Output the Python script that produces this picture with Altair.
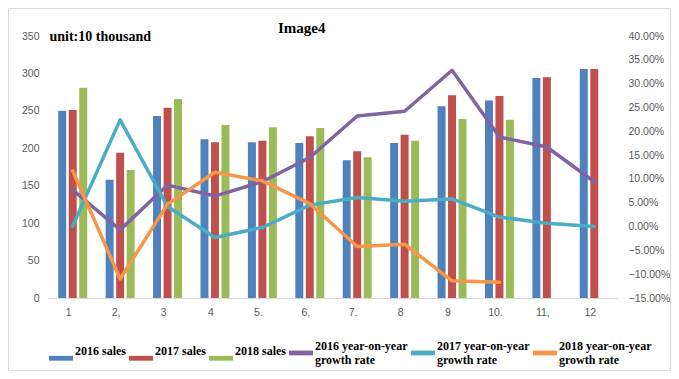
import altair as alt
import pandas as pd

months = ["1", "2,", "3", "4", "5.", "6,", "7.", "8", "9", "10.", "11,", "12"]

bar_series = ["2016 sales", "2017 sales", "2018 sales"]
sales_2016 = [250, 158, 243, 212, 208, 207, 184, 207, 256, 264, 294, 306]
sales_2017 = [251, 194, 254, 208, 210, 216, 196, 218, 271, 270, 295, 306]
sales_2018 = [281, 171, 266, 231, 228, 227, 188, 210, 239, 238, None, None]

line_series = ["2016 year-on-year|growth rate",
               "2017 year-on-year|growth rate",
               "2018 year-on-year|growth rate"]
growth_2016 = [7.7, -0.7, 8.7, 6.4, 9.4, 14.5, 23.2, 24.2, 32.8, 18.8, 16.7, 9.4]
growth_2017 = [0.1, 22.4, 4.2, -2.3, -0.2, 4.5, 6.1, 5.3, 5.8, 2.0, 0.7, 0.0]
growth_2018 = [11.7, -11.0, 4.7, 11.4, 9.6, 4.8, -4.2, -3.7, -11.4, -11.7, None, None]

left_ticks = [0, 50, 100, 150, 200, 250, 300, 350]
right_ticks = [-0.15, -0.10, -0.05, 0.0, 0.05, 0.10, 0.15, 0.20, 0.25, 0.30, 0.35, 0.40]

chart_title = "Image4"
unit_label = "unit:10 thousand"

colors = ["#4F81BD", "#C0504D", "#9BBB59", "#8064A2", "#4BACC6", "#F79646"]

bar_rows = []
for s, vals in zip(bar_series, [sales_2016, sales_2017, sales_2018]):
    for m, v in zip(months, vals):
        bar_rows.append({"month": m, "series": s, "value": v})
bar_df = pd.DataFrame(bar_rows)

line_rows = []
for s, vals in zip(line_series, [growth_2016, growth_2017, growth_2018]):
    for m, v in zip(months, vals):
        line_rows.append({"month": m, "series": s, "rate": None if v is None else v / 100})
line_df = pd.DataFrame(line_rows)

all_series = bar_series + line_series

legend = alt.Legend(
    title=None, orient="none", legendX=0, legendY=298, direction="horizontal",
    columns=6, symbolType="M-1,0.38H1V0.78H-1Z", symbolSize=576, symbolStrokeWidth=0,
    labelFont="Liberation Serif", labelFontSize=12, labelFontWeight="bold",
    labelColor="black", labelOffset=2, columnPadding=3,
    labelExpr="split(datum.label, '|')", labelLimit=200,
)
color_scale = alt.Scale(domain=all_series, range=colors)

x_enc = alt.X("month:N", sort=months, title=None,
              scale=alt.Scale(paddingInner=0.389, paddingOuter=0.195),
              axis=alt.Axis(labelAngle=0, ticks=False, domainColor="#d9d9d9",
                            labelFont="Liberation Sans", labelFontSize=10.5,
                            labelColor="#595959", labelPadding=9, labelOffset=-4))

border = alt.Chart(alt.Data(values=[{"a": 1}])).mark_rect(
    fill="transparent", stroke="#d9d9d9", strokeWidth=1
).encode(x=alt.value(-40.5), x2=alt.value(621.5), y=alt.value(-27.5), y2=alt.value(334.5))

title_text = alt.Chart(alt.Data(values=[{"t": chart_title}])).mark_text(
    font="Liberation Serif", fontSize=15, fontWeight="bold", color="black",
    align="left", baseline="alphabetic"
).encode(text="t:N", x=alt.value(229), y=alt.value(-3))

bars = alt.Chart(bar_df).mark_bar().encode(
    x=x_enc,
    xOffset=alt.XOffset("series:N", sort=bar_series,
                        scale=alt.Scale(domain=bar_series, paddingInner=0.238, paddingOuter=0)),
    y=alt.Y("value:Q", scale=alt.Scale(domain=[0, 350], nice=False),
            axis=alt.Axis(orient="left", values=left_ticks, grid=False, ticks=False, domain=False,
                          labelFont="Liberation Sans", labelFontSize=10.5, labelColor="#595959",
                          labelPadding=10, title=unit_label, titleAngle=0, titleX=0,
                          titleY=4.5, titleAlign="left", titleBaseline="alphabetic",
                          titleFont="Liberation Serif", titleFontSize=14, titleFontWeight="bold",
                          titleColor="black")),
    color=alt.Color("series:N", scale=color_scale, legend=legend),
)

lines = alt.Chart(line_df).mark_line(strokeWidth=3.5, strokeJoin="round", strokeCap="round").encode(
    x=x_enc,
    y=alt.Y("rate:Q", scale=alt.Scale(domain=[-0.15, 0.40], nice=False),
            axis=alt.Axis(orient="right", values=right_ticks, format=".2%", grid=False,
                          ticks=False, domain=False, labelFont="Liberation Sans",
                          labelFontSize=10.5, labelColor="#595959", labelPadding=10, title=None)),
    color=alt.Color("series:N", scale=color_scale, legend=legend),
    detail="series:N",
)

chart = alt.layer(border, bars, lines, title_text).resolve_scale(y="independent").properties(
    width=569, height=262,
    padding={"left": 41, "top": 28, "right": 53, "bottom": 73},
    autosize=alt.AutoSizeParams(type="none"),
    background="white",
).configure_view(stroke=None)

chart.save("out.html", embed_options={"renderer": "svg", "actions": False})
